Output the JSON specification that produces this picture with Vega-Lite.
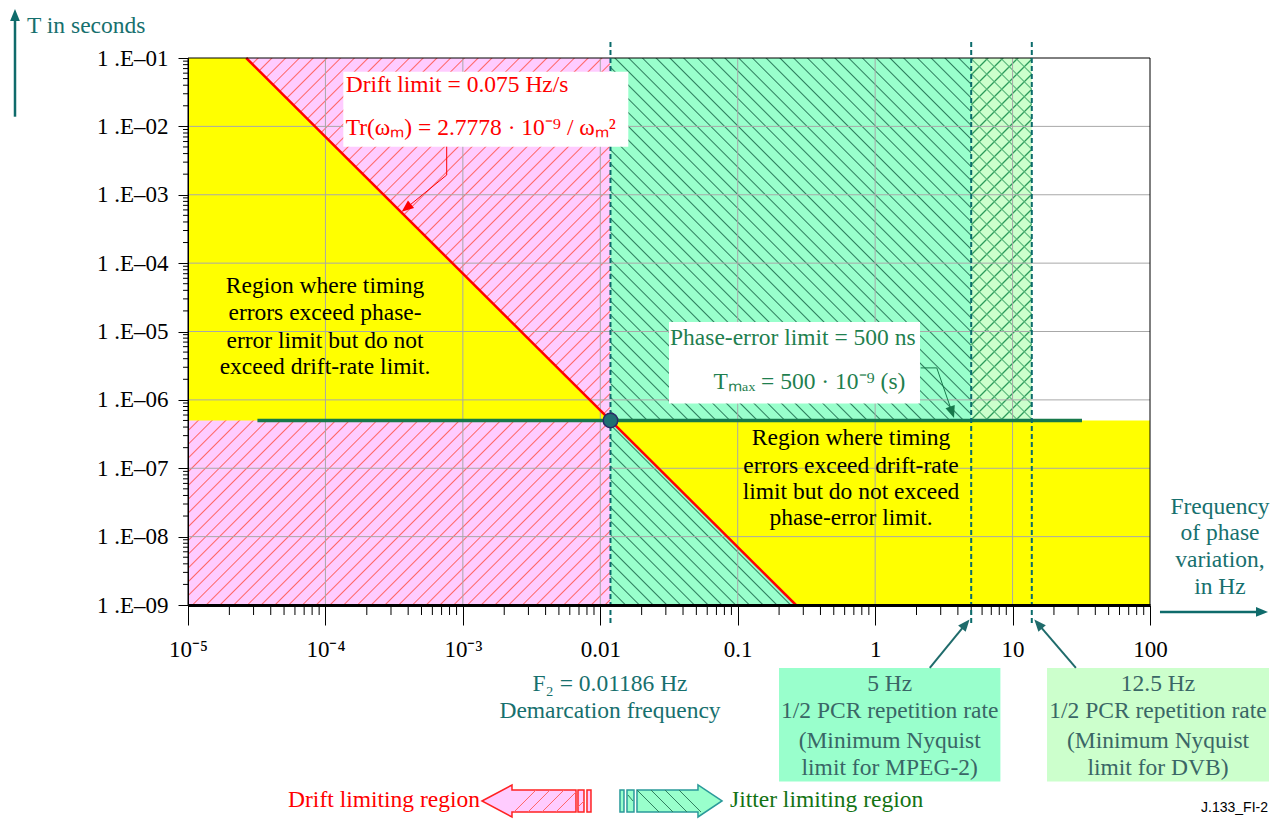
{
"$schema":"https://vega.github.io/schema/vega-lite/v6.json",
"width":962,"height":547,
"autosize":{"type":"none"},
"padding":{"left":188,"top":58,"right":133,"bottom":214},
"background":"white",
"config":{"view":{"stroke":null},"text":{"font":"Liberation Serif"}},
"datasets":{
"fills":[{"k":"pink","x1":1e-5,"x2":0.01186,"y1":1e-9,"y2":0.1},{"k":"green","x1":0.01186,"x2":5,"y1":1e-9,"y2":0.1},{"k":"cross","x1":5,"x2":13.8,"y1":5e-7,"y2":0.1},{"k":"frame","x1":1e-5,"x2":100,"y1":1e-9,"y2":0.1}],
"yellow":[{"p":"L","f":1e-5,"t":0.1,"t2":5e-7},{"p":"L","f":2.6526e-5,"t":0.1,"t2":5e-7},{"p":"L","f":0.01186,"t":5e-7,"t2":5e-7},{"p":"R","f":0.01186,"t":5e-7,"t2":5e-7},{"p":"R","f":0.26526,"t":1e-9,"t2":5e-7},{"p":"R","f":100,"t":1e-9,"t2":5e-7}],
"gridx":[{"v":1e-4},{"v":0.001},{"v":0.01},{"v":0.1},{"v":1},{"v":10}],
"gridy":[{"v":1e-8},{"v":1e-7},{"v":1e-6},{"v":1e-5},{"v":1e-4},{"v":0.001},{"v":0.01}],
"minx":[{"v":2e-5},{"v":3e-5},{"v":4e-5},{"v":5e-5},{"v":6e-5},{"v":7e-5},{"v":8e-5},{"v":9e-5},{"v":2e-4},{"v":3e-4},{"v":4e-4},{"v":5e-4},{"v":6e-4},{"v":7e-4},{"v":8e-4},{"v":9e-4},{"v":0.002},{"v":0.003},{"v":0.004},{"v":0.005},{"v":0.006},{"v":0.007},{"v":0.008},{"v":0.009},{"v":0.02},{"v":0.03},{"v":0.04},{"v":0.05},{"v":0.06},{"v":0.07},{"v":0.08},{"v":0.09},{"v":0.2},{"v":0.3},{"v":0.4},{"v":0.5},{"v":0.6},{"v":0.7},{"v":0.8},{"v":0.9},{"v":2},{"v":3},{"v":4},{"v":5},{"v":6},{"v":7},{"v":8},{"v":9},{"v":20},{"v":30},{"v":40},{"v":50},{"v":60},{"v":70},{"v":80},{"v":90}],
"miny":[{"v":2e-9},{"v":3e-9},{"v":4e-9},{"v":5e-9},{"v":6e-9},{"v":7e-9},{"v":8e-9},{"v":9e-9},{"v":2e-8},{"v":3e-8},{"v":4e-8},{"v":5e-8},{"v":6e-8},{"v":7e-8},{"v":8e-8},{"v":9e-8},{"v":2e-7},{"v":3e-7},{"v":4e-7},{"v":5e-7},{"v":6e-7},{"v":7e-7},{"v":8e-7},{"v":9e-7},{"v":2e-6},{"v":3e-6},{"v":4e-6},{"v":5e-6},{"v":6e-6},{"v":7e-6},{"v":8e-6},{"v":9e-6},{"v":2e-5},{"v":3e-5},{"v":4e-5},{"v":5e-5},{"v":6e-5},{"v":7e-5},{"v":8e-5},{"v":9e-5},{"v":2e-4},{"v":3e-4},{"v":4e-4},{"v":5e-4},{"v":6e-4},{"v":7e-4},{"v":8e-4},{"v":9e-4},{"v":0.002},{"v":0.003},{"v":0.004},{"v":0.005},{"v":0.006},{"v":0.007},{"v":0.008},{"v":0.009},{"v":0.02},{"v":0.03},{"v":0.04},{"v":0.05},{"v":0.06},{"v":0.07},{"v":0.08},{"v":0.09}],
"segs":[{"k":"drift","x1":2.6526e-5,"y1":0.1,"x2":0.26526,"y2":1e-9},
{"k":"tmax","x1":3.2e-5,"y1":5e-7,"x2":32,"y2":5e-7},
{"k":"dash","x1":0.01186,"y1":0.1714,"x2":0.01186,"y2":4.93e-10},
{"k":"dash","x1":5,"y1":0.1714,"x2":5,"y2":4.93e-10},
{"k":"dash","x1":13.8,"y1":0.1714,"x2":13.8,"y2":4.93e-10},
{"k":"red","x1":7.627e-4,"y1":5.043e-3,"x2":7.627e-4,"y2":1.944e-3},
{"k":"red","x1":7.627e-4,"y1":1.944e-3,"x2":3.956e-4,"y2":6.617e-4},
{"k":"green","x1":2.145,"y1":2.935e-6,"x2":2.81,"y2":2.935e-6},
{"k":"green","x1":2.81,"y1":2.935e-6,"x2":3.6,"y2":6.9e-7},
{"k":"teal","x1":5.51e-7,"y1":0.01385,"x2":5.51e-7,"y2":0.4045},
{"k":"teal","x1":118.2,"y1":7.9e-10,"x2":636.8,"y2":7.9e-10},
{"k":"teal2","x1":2.498,"y1":1.202e-10,"x2":4.489,"y2":5.063e-10},
{"k":"teal2","x1":28.89,"y1":1.202e-10,"x2":15.62,"y2":5.08e-10}],
"heads":[{"k":"T","x":5.51e-7,"y":0.4045},{"k":"F","x":636.8,"y":7.9e-10},{"k":"R","x":3.956e-4,"y":6.617e-4},{"k":"G","x":3.6,"y":6.9e-7},{"k":"B1","x":4.489,"y":5.063e-10},{"k":"B2","x":15.62,"y":5.08e-10}],
"boxes":[{"k":"drift","x1":1.349e-4,"x2":0.01599,"y1":5.043e-3,"y2":0.06302},{"k":"phase","x1":0.03162,"x2":2.12,"y1":8.82e-7,"y2":1.377e-5},{"k":"b5","x1":0.1998,"x2":8.155,"y1":2.62e-12,"y2":1.198e-10},{"k":"b12","x1":17.81,"x2":734.4,"y1":2.62e-12,"y2":1.198e-10}],
"pt":[{"x":0.01186,"y":5e-7}],
"legarr":[{"k":"D","x":3.405e-3,"y":1.36e-12},{"k":"J","x":0.03269,"y":1.36e-12}],
"texts":[{"g":"tlab","x":6.74e-7,"y":0.232,"s":"T in seconds"},
{"g":"freq","x":323.1,"y":2.739e-8,"s":"Frequency"},
{"g":"freq","x":323.1,"y":1.118e-8,"s":"of phase"},
{"g":"freq","x":323.1,"y":4.55e-9,"s":"variation,"},
{"g":"freq","x":323.1,"y":1.852e-9,"s":"in Hz"},
{"g":"drift","x":1.404e-4,"y":0.03214,"s":"Drift limit = 0.075 Hz/s"},
{"g":"drift","x":1.404e-4,"y":7.479e-3,"s":"Tr(ωₘ) = 2.7778 · 10⁻⁹ / ωₘ²"},
{"g":"phase","x":0.03216,"y":6.43e-6,"s":"Phase-error limit = 500 ns"},
{"g":"phase","x":0.06676,"y":1.442e-6,"s":"Tₘₐₓ = 500 · 10⁻⁹  (s)"},
{"g":"region","x":9.93e-5,"y":4.628e-5,"s":"Region where timing"},
{"g":"region","x":9.93e-5,"y":1.845e-5,"s":"errors exceed phase-"},
{"g":"region","x":9.93e-5,"y":7.26e-6,"s":"error limit but do not"},
{"g":"region","x":9.93e-5,"y":2.996e-6,"s":"exceed drift-rate limit."},
{"g":"region","x":0.6674,"y":2.742e-7,"s":"Region where timing"},
{"g":"region","x":0.6674,"y":1.09e-7,"s":"errors exceed drift-rate"},
{"g":"region","x":0.6674,"y":4.54e-8,"s":"limit but do not exceed"},
{"g":"region","x":0.6674,"y":1.853e-8,"s":"phase-error limit."},
{"g":"f2","x":0.01177,"y":7.11e-11,"s":"F₂ = 0.01186 Hz"},
{"g":"f2","x":0.01177,"y":2.77e-11,"s":"Demarcation frequency"},
{"g":"box","x":1.276,"y":7.11e-11,"s":"5 Hz"},
{"g":"box","x":1.276,"y":2.77e-11,"s":"1/2 PCR repetition rate"},
{"g":"box","x":1.276,"y":1.039e-11,"s":"(Minimum Nyquist"},
{"g":"box","x":1.276,"y":4.09e-12,"s":"limit for MPEG-2)"},
{"g":"box","x":114.3,"y":7.11e-11,"s":"12.5 Hz"},
{"g":"box","x":114.3,"y":2.77e-11,"s":"1/2 PCR repetition rate"},
{"g":"box","x":114.3,"y":1.039e-11,"s":"(Minimum Nyquist"},
{"g":"box","x":114.3,"y":4.09e-12,"s":"limit for DVB)"},
{"g":"legD","x":1.332e-3,"y":1.406e-12,"s":"Drift limiting region"},
{"g":"legJ","x":0.08786,"y":1.406e-12,"s":"Jitter limiting region"},
{"g":"code","x":722.3,"y":1.074e-12,"s":"J.133_FI-2"}]
},
"layer":[
{"data":{"name":"fills"},"transform":[{"filter":"datum.k==='pink'"}],"mark":{"type":"rect","fill":{"gradient":"linear","x1":0,"y1":0,"x2":0.9729,"y2":1.2596,"stops":[
{"offset":0,"color":"#fcf"},{"offset":0.0013,"color":"#f66"},{"offset":0.0026,"color":"#fcf"},
{"offset":0.0125,"color":"#fcf"},{"offset":0.0138,"color":"#f66"},{"offset":0.0151,"color":"#fcf"},
{"offset":0.025,"color":"#fcf"},{"offset":0.0263,"color":"#f66"},{"offset":0.0276,"color":"#fcf"},
{"offset":0.0375,"color":"#fcf"},{"offset":0.0388,"color":"#f66"},{"offset":0.0401,"color":"#fcf"},
{"offset":0.05,"color":"#fcf"},{"offset":0.0513,"color":"#f66"},{"offset":0.0526,"color":"#fcf"},
{"offset":0.0625,"color":"#fcf"},{"offset":0.0638,"color":"#f66"},{"offset":0.0651,"color":"#fcf"},
{"offset":0.075,"color":"#fcf"},{"offset":0.0763,"color":"#f66"},{"offset":0.0776,"color":"#fcf"},
{"offset":0.0875,"color":"#fcf"},{"offset":0.0888,"color":"#f66"},{"offset":0.0901,"color":"#fcf"},
{"offset":0.1,"color":"#fcf"},{"offset":0.1013,"color":"#f66"},{"offset":0.1026,"color":"#fcf"},
{"offset":0.1125,"color":"#fcf"},{"offset":0.1138,"color":"#f66"},{"offset":0.1151,"color":"#fcf"},
{"offset":0.125,"color":"#fcf"},{"offset":0.1263,"color":"#f66"},{"offset":0.1276,"color":"#fcf"},
{"offset":0.1375,"color":"#fcf"},{"offset":0.1388,"color":"#f66"},{"offset":0.1401,"color":"#fcf"},
{"offset":0.15,"color":"#fcf"},{"offset":0.1513,"color":"#f66"},{"offset":0.1526,"color":"#fcf"},
{"offset":0.1625,"color":"#fcf"},{"offset":0.1638,"color":"#f66"},{"offset":0.1651,"color":"#fcf"},
{"offset":0.175,"color":"#fcf"},{"offset":0.1763,"color":"#f66"},{"offset":0.1776,"color":"#fcf"},
{"offset":0.1875,"color":"#fcf"},{"offset":0.1888,"color":"#f66"},{"offset":0.1901,"color":"#fcf"},
{"offset":0.2,"color":"#fcf"},{"offset":0.2013,"color":"#f66"},{"offset":0.2026,"color":"#fcf"},
{"offset":0.2125,"color":"#fcf"},{"offset":0.2138,"color":"#f66"},{"offset":0.2151,"color":"#fcf"},
{"offset":0.225,"color":"#fcf"},{"offset":0.2263,"color":"#f66"},{"offset":0.2276,"color":"#fcf"},
{"offset":0.2375,"color":"#fcf"},{"offset":0.2388,"color":"#f66"},{"offset":0.2401,"color":"#fcf"},
{"offset":0.25,"color":"#fcf"},{"offset":0.2513,"color":"#f66"},{"offset":0.2526,"color":"#fcf"},
{"offset":0.2625,"color":"#fcf"},{"offset":0.2638,"color":"#f66"},{"offset":0.2651,"color":"#fcf"},
{"offset":0.275,"color":"#fcf"},{"offset":0.2763,"color":"#f66"},{"offset":0.2776,"color":"#fcf"},
{"offset":0.2875,"color":"#fcf"},{"offset":0.2888,"color":"#f66"},{"offset":0.2901,"color":"#fcf"},
{"offset":0.3,"color":"#fcf"},{"offset":0.3013,"color":"#f66"},{"offset":0.3026,"color":"#fcf"},
{"offset":0.3125,"color":"#fcf"},{"offset":0.3138,"color":"#f66"},{"offset":0.3151,"color":"#fcf"},
{"offset":0.325,"color":"#fcf"},{"offset":0.3263,"color":"#f66"},{"offset":0.3276,"color":"#fcf"},
{"offset":0.3375,"color":"#fcf"},{"offset":0.3388,"color":"#f66"},{"offset":0.3401,"color":"#fcf"},
{"offset":0.35,"color":"#fcf"},{"offset":0.3513,"color":"#f66"},{"offset":0.3526,"color":"#fcf"},
{"offset":0.3625,"color":"#fcf"},{"offset":0.3638,"color":"#f66"},{"offset":0.3651,"color":"#fcf"},
{"offset":0.375,"color":"#fcf"},{"offset":0.3763,"color":"#f66"},{"offset":0.3776,"color":"#fcf"},
{"offset":0.3875,"color":"#fcf"},{"offset":0.3888,"color":"#f66"},{"offset":0.3901,"color":"#fcf"},
{"offset":0.4,"color":"#fcf"},{"offset":0.4013,"color":"#f66"},{"offset":0.4026,"color":"#fcf"},
{"offset":0.4125,"color":"#fcf"},{"offset":0.4138,"color":"#f66"},{"offset":0.4151,"color":"#fcf"},
{"offset":0.425,"color":"#fcf"},{"offset":0.4263,"color":"#f66"},{"offset":0.4276,"color":"#fcf"},
{"offset":0.4375,"color":"#fcf"},{"offset":0.4388,"color":"#f66"},{"offset":0.4401,"color":"#fcf"},
{"offset":0.45,"color":"#fcf"},{"offset":0.4513,"color":"#f66"},{"offset":0.4526,"color":"#fcf"},
{"offset":0.4625,"color":"#fcf"},{"offset":0.4638,"color":"#f66"},{"offset":0.4651,"color":"#fcf"},
{"offset":0.475,"color":"#fcf"},{"offset":0.4763,"color":"#f66"},{"offset":0.4776,"color":"#fcf"},
{"offset":0.4875,"color":"#fcf"},{"offset":0.4888,"color":"#f66"},{"offset":0.4901,"color":"#fcf"},
{"offset":0.5,"color":"#fcf"},{"offset":0.5013,"color":"#f66"},{"offset":0.5026,"color":"#fcf"},
{"offset":0.5125,"color":"#fcf"},{"offset":0.5138,"color":"#f66"},{"offset":0.5151,"color":"#fcf"},
{"offset":0.525,"color":"#fcf"},{"offset":0.5263,"color":"#f66"},{"offset":0.5276,"color":"#fcf"},
{"offset":0.5375,"color":"#fcf"},{"offset":0.5388,"color":"#f66"},{"offset":0.5401,"color":"#fcf"},
{"offset":0.55,"color":"#fcf"},{"offset":0.5513,"color":"#f66"},{"offset":0.5526,"color":"#fcf"},
{"offset":0.5625,"color":"#fcf"},{"offset":0.5638,"color":"#f66"},{"offset":0.5651,"color":"#fcf"},
{"offset":0.575,"color":"#fcf"},{"offset":0.5763,"color":"#f66"},{"offset":0.5776,"color":"#fcf"},
{"offset":0.5875,"color":"#fcf"},{"offset":0.5888,"color":"#f66"},{"offset":0.5901,"color":"#fcf"},
{"offset":0.6,"color":"#fcf"},{"offset":0.6013,"color":"#f66"},{"offset":0.6026,"color":"#fcf"},
{"offset":0.6125,"color":"#fcf"},{"offset":0.6138,"color":"#f66"},{"offset":0.6151,"color":"#fcf"},
{"offset":0.625,"color":"#fcf"},{"offset":0.6263,"color":"#f66"},{"offset":0.6276,"color":"#fcf"},
{"offset":0.6375,"color":"#fcf"},{"offset":0.6388,"color":"#f66"},{"offset":0.6401,"color":"#fcf"},
{"offset":0.65,"color":"#fcf"},{"offset":0.6513,"color":"#f66"},{"offset":0.6526,"color":"#fcf"},
{"offset":0.6625,"color":"#fcf"},{"offset":0.6638,"color":"#f66"},{"offset":0.6651,"color":"#fcf"},
{"offset":0.675,"color":"#fcf"},{"offset":0.6763,"color":"#f66"},{"offset":0.6776,"color":"#fcf"},
{"offset":0.6875,"color":"#fcf"},{"offset":0.6888,"color":"#f66"},{"offset":0.6901,"color":"#fcf"},
{"offset":0.7,"color":"#fcf"},{"offset":0.7013,"color":"#f66"},{"offset":0.7026,"color":"#fcf"},
{"offset":0.7125,"color":"#fcf"},{"offset":0.7138,"color":"#f66"},{"offset":0.7151,"color":"#fcf"},
{"offset":0.725,"color":"#fcf"},{"offset":0.7263,"color":"#f66"},{"offset":0.7276,"color":"#fcf"},
{"offset":0.7375,"color":"#fcf"},{"offset":0.7388,"color":"#f66"},{"offset":0.7401,"color":"#fcf"},
{"offset":0.75,"color":"#fcf"},{"offset":0.7513,"color":"#f66"},{"offset":0.7526,"color":"#fcf"},
{"offset":0.7625,"color":"#fcf"},{"offset":0.7638,"color":"#f66"},{"offset":0.7651,"color":"#fcf"},
{"offset":0.775,"color":"#fcf"},{"offset":0.7763,"color":"#f66"},{"offset":0.7776,"color":"#fcf"},
{"offset":0.7875,"color":"#fcf"},{"offset":0.7888,"color":"#f66"},{"offset":0.7901,"color":"#fcf"},
{"offset":0.8,"color":"#fcf"},{"offset":0.8013,"color":"#f66"},{"offset":0.8026,"color":"#fcf"},
{"offset":0.8125,"color":"#fcf"},{"offset":0.8138,"color":"#f66"},{"offset":0.8151,"color":"#fcf"},
{"offset":0.825,"color":"#fcf"},{"offset":0.8263,"color":"#f66"},{"offset":0.8276,"color":"#fcf"},
{"offset":0.8375,"color":"#fcf"},{"offset":0.8388,"color":"#f66"},{"offset":0.8401,"color":"#fcf"},
{"offset":0.85,"color":"#fcf"},{"offset":0.8513,"color":"#f66"},{"offset":0.8526,"color":"#fcf"},
{"offset":0.8625,"color":"#fcf"},{"offset":0.8638,"color":"#f66"},{"offset":0.8651,"color":"#fcf"},
{"offset":0.875,"color":"#fcf"},{"offset":0.8763,"color":"#f66"},{"offset":0.8776,"color":"#fcf"},
{"offset":1,"color":"#fcf"}]}},
"encoding":{
"x":{"field":"x1","type":"quantitative","title":null,"scale":{"type":"log","domain":[1e-5,100],"nice":false},"axis":{"title":null,"values":[1e-5,1e-4,0.001,0.01,0.1,1,10,100],"labelExpr":"['10⁻⁵','10⁻⁴','10⁻³','0.01','0.1','1','10','100'][round(log(datum.value)/LN10)+5]","tickSize":20,"tickColor":"black","tickWidth":1,"domainColor":"black","domainWidth":3,"labelFont":"Liberation Serif","labelFontSize":23,"labelColor":"black","labelPadding":13,"labelFlush":false,"labelOverlap":false,"labelBound":false,"grid":false,"zindex":1}},
"x2":{"field":"x2"},
"y":{"field":"y1","type":"quantitative","title":null,"scale":{"type":"log","domain":[1e-9,0.1],"nice":false},"axis":{"title":null,"values":[1e-9,1e-8,1e-7,1e-6,1e-5,1e-4,0.001,0.01,0.1],"labelExpr":"'1 .E–0' + (-round(log(datum.value)/LN10))","tickSize":10,"tickColor":"black","tickWidth":1,"domainColor":"black","domainWidth":1,"labelFont":"Liberation Serif","labelFontSize":23,"labelColor":"black","labelPadding":10,"labelFlush":false,"labelOverlap":false,"labelBound":false,"grid":false,"zindex":1}},
"y2":{"field":"y2"}}},
{"data":{"name":"fills"},"transform":[{"filter":"datum.k==='green'"}],"mark":{"type":"rect","fill":{"gradient":"linear","x1":0,"y1":1,"x2":0.9242,"y2":-0.4016,"stops":[
{"offset":0,"color":"#9fc"},{"offset":0.0013,"color":"#2d7d5d"},{"offset":0.0026,"color":"#9fc"},
{"offset":0.0125,"color":"#9fc"},{"offset":0.0138,"color":"#2d7d5d"},{"offset":0.0151,"color":"#9fc"},
{"offset":0.025,"color":"#9fc"},{"offset":0.0263,"color":"#2d7d5d"},{"offset":0.0276,"color":"#9fc"},
{"offset":0.0375,"color":"#9fc"},{"offset":0.0388,"color":"#2d7d5d"},{"offset":0.0401,"color":"#9fc"},
{"offset":0.05,"color":"#9fc"},{"offset":0.0513,"color":"#2d7d5d"},{"offset":0.0526,"color":"#9fc"},
{"offset":0.0625,"color":"#9fc"},{"offset":0.0638,"color":"#2d7d5d"},{"offset":0.0651,"color":"#9fc"},
{"offset":0.075,"color":"#9fc"},{"offset":0.0763,"color":"#2d7d5d"},{"offset":0.0776,"color":"#9fc"},
{"offset":0.0875,"color":"#9fc"},{"offset":0.0888,"color":"#2d7d5d"},{"offset":0.0901,"color":"#9fc"},
{"offset":0.1,"color":"#9fc"},{"offset":0.1013,"color":"#2d7d5d"},{"offset":0.1026,"color":"#9fc"},
{"offset":0.1125,"color":"#9fc"},{"offset":0.1138,"color":"#2d7d5d"},{"offset":0.1151,"color":"#9fc"},
{"offset":0.125,"color":"#9fc"},{"offset":0.1263,"color":"#2d7d5d"},{"offset":0.1276,"color":"#9fc"},
{"offset":0.1375,"color":"#9fc"},{"offset":0.1388,"color":"#2d7d5d"},{"offset":0.1401,"color":"#9fc"},
{"offset":0.15,"color":"#9fc"},{"offset":0.1513,"color":"#2d7d5d"},{"offset":0.1526,"color":"#9fc"},
{"offset":0.1625,"color":"#9fc"},{"offset":0.1638,"color":"#2d7d5d"},{"offset":0.1651,"color":"#9fc"},
{"offset":0.175,"color":"#9fc"},{"offset":0.1763,"color":"#2d7d5d"},{"offset":0.1776,"color":"#9fc"},
{"offset":0.1875,"color":"#9fc"},{"offset":0.1888,"color":"#2d7d5d"},{"offset":0.1901,"color":"#9fc"},
{"offset":0.2,"color":"#9fc"},{"offset":0.2013,"color":"#2d7d5d"},{"offset":0.2026,"color":"#9fc"},
{"offset":0.2125,"color":"#9fc"},{"offset":0.2138,"color":"#2d7d5d"},{"offset":0.2151,"color":"#9fc"},
{"offset":0.225,"color":"#9fc"},{"offset":0.2263,"color":"#2d7d5d"},{"offset":0.2276,"color":"#9fc"},
{"offset":0.2375,"color":"#9fc"},{"offset":0.2388,"color":"#2d7d5d"},{"offset":0.2401,"color":"#9fc"},
{"offset":0.25,"color":"#9fc"},{"offset":0.2513,"color":"#2d7d5d"},{"offset":0.2526,"color":"#9fc"},
{"offset":0.2625,"color":"#9fc"},{"offset":0.2638,"color":"#2d7d5d"},{"offset":0.2651,"color":"#9fc"},
{"offset":0.275,"color":"#9fc"},{"offset":0.2763,"color":"#2d7d5d"},{"offset":0.2776,"color":"#9fc"},
{"offset":0.2875,"color":"#9fc"},{"offset":0.2888,"color":"#2d7d5d"},{"offset":0.2901,"color":"#9fc"},
{"offset":0.3,"color":"#9fc"},{"offset":0.3013,"color":"#2d7d5d"},{"offset":0.3026,"color":"#9fc"},
{"offset":0.3125,"color":"#9fc"},{"offset":0.3138,"color":"#2d7d5d"},{"offset":0.3151,"color":"#9fc"},
{"offset":0.325,"color":"#9fc"},{"offset":0.3263,"color":"#2d7d5d"},{"offset":0.3276,"color":"#9fc"},
{"offset":0.3375,"color":"#9fc"},{"offset":0.3388,"color":"#2d7d5d"},{"offset":0.3401,"color":"#9fc"},
{"offset":0.35,"color":"#9fc"},{"offset":0.3513,"color":"#2d7d5d"},{"offset":0.3526,"color":"#9fc"},
{"offset":0.3625,"color":"#9fc"},{"offset":0.3638,"color":"#2d7d5d"},{"offset":0.3651,"color":"#9fc"},
{"offset":0.375,"color":"#9fc"},{"offset":0.3763,"color":"#2d7d5d"},{"offset":0.3776,"color":"#9fc"},
{"offset":0.3875,"color":"#9fc"},{"offset":0.3888,"color":"#2d7d5d"},{"offset":0.3901,"color":"#9fc"},
{"offset":0.4,"color":"#9fc"},{"offset":0.4013,"color":"#2d7d5d"},{"offset":0.4026,"color":"#9fc"},
{"offset":0.4125,"color":"#9fc"},{"offset":0.4138,"color":"#2d7d5d"},{"offset":0.4151,"color":"#9fc"},
{"offset":0.425,"color":"#9fc"},{"offset":0.4263,"color":"#2d7d5d"},{"offset":0.4276,"color":"#9fc"},
{"offset":0.4375,"color":"#9fc"},{"offset":0.4388,"color":"#2d7d5d"},{"offset":0.4401,"color":"#9fc"},
{"offset":0.45,"color":"#9fc"},{"offset":0.4513,"color":"#2d7d5d"},{"offset":0.4526,"color":"#9fc"},
{"offset":0.4625,"color":"#9fc"},{"offset":0.4638,"color":"#2d7d5d"},{"offset":0.4651,"color":"#9fc"},
{"offset":0.475,"color":"#9fc"},{"offset":0.4763,"color":"#2d7d5d"},{"offset":0.4776,"color":"#9fc"},
{"offset":0.4875,"color":"#9fc"},{"offset":0.4888,"color":"#2d7d5d"},{"offset":0.4901,"color":"#9fc"},
{"offset":0.5,"color":"#9fc"},{"offset":0.5013,"color":"#2d7d5d"},{"offset":0.5026,"color":"#9fc"},
{"offset":0.5125,"color":"#9fc"},{"offset":0.5138,"color":"#2d7d5d"},{"offset":0.5151,"color":"#9fc"},
{"offset":0.525,"color":"#9fc"},{"offset":0.5263,"color":"#2d7d5d"},{"offset":0.5276,"color":"#9fc"},
{"offset":0.5375,"color":"#9fc"},{"offset":0.5388,"color":"#2d7d5d"},{"offset":0.5401,"color":"#9fc"},
{"offset":0.55,"color":"#9fc"},{"offset":0.5513,"color":"#2d7d5d"},{"offset":0.5526,"color":"#9fc"},
{"offset":0.5625,"color":"#9fc"},{"offset":0.5638,"color":"#2d7d5d"},{"offset":0.5651,"color":"#9fc"},
{"offset":0.575,"color":"#9fc"},{"offset":0.5763,"color":"#2d7d5d"},{"offset":0.5776,"color":"#9fc"},
{"offset":0.5875,"color":"#9fc"},{"offset":0.5888,"color":"#2d7d5d"},{"offset":0.5901,"color":"#9fc"},
{"offset":0.6,"color":"#9fc"},{"offset":0.6013,"color":"#2d7d5d"},{"offset":0.6026,"color":"#9fc"},
{"offset":0.6125,"color":"#9fc"},{"offset":0.6138,"color":"#2d7d5d"},{"offset":0.6151,"color":"#9fc"},
{"offset":0.625,"color":"#9fc"},{"offset":0.6263,"color":"#2d7d5d"},{"offset":0.6276,"color":"#9fc"},
{"offset":0.6375,"color":"#9fc"},{"offset":0.6388,"color":"#2d7d5d"},{"offset":0.6401,"color":"#9fc"},
{"offset":0.65,"color":"#9fc"},{"offset":0.6513,"color":"#2d7d5d"},{"offset":0.6526,"color":"#9fc"},
{"offset":0.6625,"color":"#9fc"},{"offset":0.6638,"color":"#2d7d5d"},{"offset":0.6651,"color":"#9fc"},
{"offset":0.675,"color":"#9fc"},{"offset":0.6763,"color":"#2d7d5d"},{"offset":0.6776,"color":"#9fc"},
{"offset":0.6875,"color":"#9fc"},{"offset":0.6888,"color":"#2d7d5d"},{"offset":0.6901,"color":"#9fc"},
{"offset":0.7,"color":"#9fc"},{"offset":0.7013,"color":"#2d7d5d"},{"offset":0.7026,"color":"#9fc"},
{"offset":0.7125,"color":"#9fc"},{"offset":0.7138,"color":"#2d7d5d"},{"offset":0.7151,"color":"#9fc"},
{"offset":0.725,"color":"#9fc"},{"offset":0.7263,"color":"#2d7d5d"},{"offset":0.7276,"color":"#9fc"},
{"offset":0.7375,"color":"#9fc"},{"offset":0.7388,"color":"#2d7d5d"},{"offset":0.7401,"color":"#9fc"},
{"offset":0.75,"color":"#9fc"},{"offset":0.7513,"color":"#2d7d5d"},{"offset":0.7526,"color":"#9fc"},
{"offset":0.7625,"color":"#9fc"},{"offset":0.7638,"color":"#2d7d5d"},{"offset":0.7651,"color":"#9fc"},
{"offset":0.775,"color":"#9fc"},{"offset":0.7763,"color":"#2d7d5d"},{"offset":0.7776,"color":"#9fc"},
{"offset":0.7875,"color":"#9fc"},{"offset":0.7888,"color":"#2d7d5d"},{"offset":0.7901,"color":"#9fc"},
{"offset":0.8,"color":"#9fc"},{"offset":0.8013,"color":"#2d7d5d"},{"offset":0.8026,"color":"#9fc"},
{"offset":0.8125,"color":"#9fc"},{"offset":0.8138,"color":"#2d7d5d"},{"offset":0.8151,"color":"#9fc"},
{"offset":0.825,"color":"#9fc"},{"offset":0.8263,"color":"#2d7d5d"},{"offset":0.8276,"color":"#9fc"},
{"offset":1,"color":"#9fc"}]}},
"encoding":{"x":{"field":"x1","type":"quantitative","title":null},"x2":{"field":"x2"},"y":{"field":"y1","type":"quantitative","title":null},"y2":{"field":"y2"}}},
{"data":{"name":"fills"},"transform":[{"filter":"datum.k==='cross'"}],"mark":{"type":"rect","fill":{"gradient":"linear","x1":0,"y1":0,"x2":0.2693,"y2":1.6104,"stops":[
{"offset":0,"color":"#cfc"},{"offset":0.003,"color":"#2a9a5a"},{"offset":0.006,"color":"#cfc"},
{"offset":0.025,"color":"#cfc"},{"offset":0.028,"color":"#2a9a5a"},{"offset":0.031,"color":"#cfc"},
{"offset":0.05,"color":"#cfc"},{"offset":0.053,"color":"#2a9a5a"},{"offset":0.056,"color":"#cfc"},
{"offset":0.075,"color":"#cfc"},{"offset":0.078,"color":"#2a9a5a"},{"offset":0.081,"color":"#cfc"},
{"offset":0.1,"color":"#cfc"},{"offset":0.103,"color":"#2a9a5a"},{"offset":0.106,"color":"#cfc"},
{"offset":0.125,"color":"#cfc"},{"offset":0.128,"color":"#2a9a5a"},{"offset":0.131,"color":"#cfc"},
{"offset":0.15,"color":"#cfc"},{"offset":0.153,"color":"#2a9a5a"},{"offset":0.156,"color":"#cfc"},
{"offset":0.175,"color":"#cfc"},{"offset":0.178,"color":"#2a9a5a"},{"offset":0.181,"color":"#cfc"},
{"offset":0.2,"color":"#cfc"},{"offset":0.203,"color":"#2a9a5a"},{"offset":0.206,"color":"#cfc"},
{"offset":0.225,"color":"#cfc"},{"offset":0.228,"color":"#2a9a5a"},{"offset":0.231,"color":"#cfc"},
{"offset":0.25,"color":"#cfc"},{"offset":0.253,"color":"#2a9a5a"},{"offset":0.256,"color":"#cfc"},
{"offset":0.275,"color":"#cfc"},{"offset":0.278,"color":"#2a9a5a"},{"offset":0.281,"color":"#cfc"},
{"offset":0.3,"color":"#cfc"},{"offset":0.303,"color":"#2a9a5a"},{"offset":0.306,"color":"#cfc"},
{"offset":0.325,"color":"#cfc"},{"offset":0.328,"color":"#2a9a5a"},{"offset":0.331,"color":"#cfc"},
{"offset":0.35,"color":"#cfc"},{"offset":0.353,"color":"#2a9a5a"},{"offset":0.356,"color":"#cfc"},
{"offset":0.375,"color":"#cfc"},{"offset":0.378,"color":"#2a9a5a"},{"offset":0.381,"color":"#cfc"},
{"offset":0.4,"color":"#cfc"},{"offset":0.403,"color":"#2a9a5a"},{"offset":0.406,"color":"#cfc"},
{"offset":0.425,"color":"#cfc"},{"offset":0.428,"color":"#2a9a5a"},{"offset":0.431,"color":"#cfc"},
{"offset":0.45,"color":"#cfc"},{"offset":0.453,"color":"#2a9a5a"},{"offset":0.456,"color":"#cfc"},
{"offset":0.475,"color":"#cfc"},{"offset":0.478,"color":"#2a9a5a"},{"offset":0.481,"color":"#cfc"},
{"offset":0.5,"color":"#cfc"},{"offset":0.503,"color":"#2a9a5a"},{"offset":0.506,"color":"#cfc"},
{"offset":0.525,"color":"#cfc"},{"offset":0.528,"color":"#2a9a5a"},{"offset":0.531,"color":"#cfc"},
{"offset":0.55,"color":"#cfc"},{"offset":0.553,"color":"#2a9a5a"},{"offset":0.556,"color":"#cfc"},
{"offset":0.575,"color":"#cfc"},{"offset":0.578,"color":"#2a9a5a"},{"offset":0.581,"color":"#cfc"},
{"offset":0.6,"color":"#cfc"},{"offset":0.603,"color":"#2a9a5a"},{"offset":0.606,"color":"#cfc"},
{"offset":0.625,"color":"#cfc"},{"offset":0.628,"color":"#2a9a5a"},{"offset":0.631,"color":"#cfc"},
{"offset":0.65,"color":"#cfc"},{"offset":0.653,"color":"#2a9a5a"},{"offset":0.656,"color":"#cfc"},
{"offset":0.675,"color":"#cfc"},{"offset":0.678,"color":"#2a9a5a"},{"offset":0.681,"color":"#cfc"},
{"offset":0.7,"color":"#cfc"},{"offset":0.703,"color":"#2a9a5a"},{"offset":0.706,"color":"#cfc"},
{"offset":1,"color":"#cfc"}]}},
"encoding":{"x":{"field":"x1","type":"quantitative","title":null},"x2":{"field":"x2"},"y":{"field":"y1","type":"quantitative","title":null},"y2":{"field":"y2"}}},
{"data":{"name":"fills"},"transform":[{"filter":"datum.k==='cross'"}],"mark":{"type":"rect","fill":{"gradient":"linear","x1":0,"y1":1,"x2":0.2693,"y2":-0.6104,"stops":[
{"offset":0,"color":"rgba(204,255,204,0)"},{"offset":0.003,"color":"#2a9a5a"},{"offset":0.006,"color":"rgba(204,255,204,0)"},
{"offset":0.025,"color":"rgba(204,255,204,0)"},{"offset":0.028,"color":"#2a9a5a"},{"offset":0.031,"color":"rgba(204,255,204,0)"},
{"offset":0.05,"color":"rgba(204,255,204,0)"},{"offset":0.053,"color":"#2a9a5a"},{"offset":0.056,"color":"rgba(204,255,204,0)"},
{"offset":0.075,"color":"rgba(204,255,204,0)"},{"offset":0.078,"color":"#2a9a5a"},{"offset":0.081,"color":"rgba(204,255,204,0)"},
{"offset":0.1,"color":"rgba(204,255,204,0)"},{"offset":0.103,"color":"#2a9a5a"},{"offset":0.106,"color":"rgba(204,255,204,0)"},
{"offset":0.125,"color":"rgba(204,255,204,0)"},{"offset":0.128,"color":"#2a9a5a"},{"offset":0.131,"color":"rgba(204,255,204,0)"},
{"offset":0.15,"color":"rgba(204,255,204,0)"},{"offset":0.153,"color":"#2a9a5a"},{"offset":0.156,"color":"rgba(204,255,204,0)"},
{"offset":0.175,"color":"rgba(204,255,204,0)"},{"offset":0.178,"color":"#2a9a5a"},{"offset":0.181,"color":"rgba(204,255,204,0)"},
{"offset":0.2,"color":"rgba(204,255,204,0)"},{"offset":0.203,"color":"#2a9a5a"},{"offset":0.206,"color":"rgba(204,255,204,0)"},
{"offset":0.225,"color":"rgba(204,255,204,0)"},{"offset":0.228,"color":"#2a9a5a"},{"offset":0.231,"color":"rgba(204,255,204,0)"},
{"offset":0.25,"color":"rgba(204,255,204,0)"},{"offset":0.253,"color":"#2a9a5a"},{"offset":0.256,"color":"rgba(204,255,204,0)"},
{"offset":0.275,"color":"rgba(204,255,204,0)"},{"offset":0.278,"color":"#2a9a5a"},{"offset":0.281,"color":"rgba(204,255,204,0)"},
{"offset":0.3,"color":"rgba(204,255,204,0)"},{"offset":0.303,"color":"#2a9a5a"},{"offset":0.306,"color":"rgba(204,255,204,0)"},
{"offset":0.325,"color":"rgba(204,255,204,0)"},{"offset":0.328,"color":"#2a9a5a"},{"offset":0.331,"color":"rgba(204,255,204,0)"},
{"offset":0.35,"color":"rgba(204,255,204,0)"},{"offset":0.353,"color":"#2a9a5a"},{"offset":0.356,"color":"rgba(204,255,204,0)"},
{"offset":0.375,"color":"rgba(204,255,204,0)"},{"offset":0.378,"color":"#2a9a5a"},{"offset":0.381,"color":"rgba(204,255,204,0)"},
{"offset":0.4,"color":"rgba(204,255,204,0)"},{"offset":0.403,"color":"#2a9a5a"},{"offset":0.406,"color":"rgba(204,255,204,0)"},
{"offset":0.425,"color":"rgba(204,255,204,0)"},{"offset":0.428,"color":"#2a9a5a"},{"offset":0.431,"color":"rgba(204,255,204,0)"},
{"offset":0.45,"color":"rgba(204,255,204,0)"},{"offset":0.453,"color":"#2a9a5a"},{"offset":0.456,"color":"rgba(204,255,204,0)"},
{"offset":0.475,"color":"rgba(204,255,204,0)"},{"offset":0.478,"color":"#2a9a5a"},{"offset":0.481,"color":"rgba(204,255,204,0)"},
{"offset":0.5,"color":"rgba(204,255,204,0)"},{"offset":0.503,"color":"#2a9a5a"},{"offset":0.506,"color":"rgba(204,255,204,0)"},
{"offset":0.525,"color":"rgba(204,255,204,0)"},{"offset":0.528,"color":"#2a9a5a"},{"offset":0.531,"color":"rgba(204,255,204,0)"},
{"offset":0.55,"color":"rgba(204,255,204,0)"},{"offset":0.553,"color":"#2a9a5a"},{"offset":0.556,"color":"rgba(204,255,204,0)"},
{"offset":0.575,"color":"rgba(204,255,204,0)"},{"offset":0.578,"color":"#2a9a5a"},{"offset":0.581,"color":"rgba(204,255,204,0)"},
{"offset":0.6,"color":"rgba(204,255,204,0)"},{"offset":0.603,"color":"#2a9a5a"},{"offset":0.606,"color":"rgba(204,255,204,0)"},
{"offset":0.625,"color":"rgba(204,255,204,0)"},{"offset":0.628,"color":"#2a9a5a"},{"offset":0.631,"color":"rgba(204,255,204,0)"},
{"offset":0.65,"color":"rgba(204,255,204,0)"},{"offset":0.653,"color":"#2a9a5a"},{"offset":0.656,"color":"rgba(204,255,204,0)"},
{"offset":0.675,"color":"rgba(204,255,204,0)"},{"offset":0.678,"color":"#2a9a5a"},{"offset":0.681,"color":"rgba(204,255,204,0)"},
{"offset":0.7,"color":"rgba(204,255,204,0)"},{"offset":0.703,"color":"#2a9a5a"},{"offset":0.706,"color":"rgba(204,255,204,0)"},
{"offset":1,"color":"rgba(204,255,204,0)"}]}},
"encoding":{"x":{"field":"x1","type":"quantitative","title":null},"x2":{"field":"x2"},"y":{"field":"y1","type":"quantitative","title":null},"y2":{"field":"y2"}}},
{"data":{"name":"yellow"},"mark":{"type":"area","fill":"#FFFF00","orient":"vertical"},
"encoding":{"x":{"field":"f","type":"quantitative","title":null},"y":{"field":"t","type":"quantitative","title":null},"y2":{"field":"t2"},"detail":{"field":"p"}}},
{"data":{"name":"gridx"},"mark":{"type":"rule","color":"#A8A8A8","strokeWidth":1},"encoding":{"x":{"field":"v","type":"quantitative","title":null}}},
{"data":{"name":"gridy"},"mark":{"type":"rule","color":"#A8A8A8","strokeWidth":1},"encoding":{"y":{"field":"v","type":"quantitative","title":null}}},
{"data":{"name":"minx"},"mark":{"type":"rule","color":"black","strokeWidth":1},"encoding":{"x":{"field":"v","type":"quantitative","title":null},"y":{"datum":1e-9},"y2":{"datum":7.14e-10}}},
{"data":{"name":"miny"},"mark":{"type":"rule","color":"black","strokeWidth":1},"encoding":{"y":{"field":"v","type":"quantitative","title":null},"x":{"datum":1e-5},"x2":{"datum":9.2e-6}}},
{"data":{"name":"segs"},"transform":[{"filter":"datum.k==='drift'"}],"mark":{"type":"rule","color":"#FF0000","strokeWidth":2.5},
"encoding":{"x":{"field":"x1","type":"quantitative","title":null},"x2":{"field":"x2"},"y":{"field":"y1","type":"quantitative","title":null},"y2":{"field":"y2"}}},
{"data":{"name":"fills"},"transform":[{"filter":"datum.k==='frame'"}],"mark":{"type":"rect","filled":false,"stroke":"black","strokeWidth":1},
"encoding":{"x":{"field":"x1","type":"quantitative","title":null},"x2":{"field":"x2"},"y":{"field":"y1","type":"quantitative","title":null},"y2":{"field":"y2"}}},
{"data":{"name":"segs"},"transform":[{"filter":"datum.k==='tmax'"}],"mark":{"type":"rule","color":"#17784A","strokeWidth":3.5},
"encoding":{"x":{"field":"x1","type":"quantitative","title":null},"x2":{"field":"x2"},"y":{"field":"y1","type":"quantitative","title":null},"y2":{"field":"y2"}}},
{"data":{"name":"segs"},"transform":[{"filter":"datum.k==='dash'"}],"mark":{"type":"rule","color":"#0B6B6B","strokeWidth":2,"strokeDash":[5,3]},
"encoding":{"x":{"field":"x1","type":"quantitative","title":null},"x2":{"field":"x2"},"y":{"field":"y1","type":"quantitative","title":null},"y2":{"field":"y2"}}},
{"data":{"name":"pt"},"mark":{"type":"point","shape":"circle","filled":true,"size":210,"fill":"#216F72","stroke":"#2A2A66","strokeWidth":1.5,"opacity":1},
"encoding":{"x":{"field":"x","type":"quantitative","title":null},"y":{"field":"y","type":"quantitative","title":null}}},
{"data":{"name":"boxes"},"transform":[{"filter":"datum.k==='drift' || datum.k==='phase'"}],"mark":{"type":"rect","fill":"#FFFFFF"},
"encoding":{"x":{"field":"x1","type":"quantitative","title":null},"x2":{"field":"x2"},"y":{"field":"y1","type":"quantitative","title":null},"y2":{"field":"y2"}}},
{"data":{"name":"boxes"},"transform":[{"filter":"datum.k==='b5'"}],"mark":{"type":"rect","fill":"#99FFCC"},
"encoding":{"x":{"field":"x1","type":"quantitative","title":null},"x2":{"field":"x2"},"y":{"field":"y1","type":"quantitative","title":null},"y2":{"field":"y2"}}},
{"data":{"name":"boxes"},"transform":[{"filter":"datum.k==='b12'"}],"mark":{"type":"rect","fill":"#CCFFCC"},
"encoding":{"x":{"field":"x1","type":"quantitative","title":null},"x2":{"field":"x2"},"y":{"field":"y1","type":"quantitative","title":null},"y2":{"field":"y2"}}},
{"data":{"name":"texts"},"transform":[{"filter":"datum.g==='tlab'"}],"mark":{"type":"text","font":"Liberation Serif","fontSize":23.5,"color":"#17706E","align":"left","baseline":"alphabetic"},
"encoding":{"x":{"field":"x","type":"quantitative","title":null},"y":{"field":"y","type":"quantitative","title":null},"text":{"field":"s"}}},
{"data":{"name":"texts"},"transform":[{"filter":"datum.g==='freq' || datum.g==='f2'"}],"mark":{"type":"text","font":"Liberation Serif","fontSize":23.5,"color":"#17706E","align":"center","baseline":"middle"},
"encoding":{"x":{"field":"x","type":"quantitative","title":null},"y":{"field":"y","type":"quantitative","title":null},"text":{"field":"s"}}},
{"data":{"name":"texts"},"transform":[{"filter":"datum.g==='drift'"}],"mark":{"type":"text","font":"Liberation Serif","fontSize":23.5,"color":"#FF0000","align":"left","baseline":"alphabetic"},
"encoding":{"x":{"field":"x","type":"quantitative","title":null},"y":{"field":"y","type":"quantitative","title":null},"text":{"field":"s"}}},
{"data":{"name":"texts"},"transform":[{"filter":"datum.g==='phase'"}],"mark":{"type":"text","font":"Liberation Serif","fontSize":23.5,"color":"#1F7F4F","align":"left","baseline":"alphabetic"},
"encoding":{"x":{"field":"x","type":"quantitative","title":null},"y":{"field":"y","type":"quantitative","title":null},"text":{"field":"s"}}},
{"data":{"name":"texts"},"transform":[{"filter":"datum.g==='region'"}],"mark":{"type":"text","font":"Liberation Serif","fontSize":23.5,"color":"#000000","align":"center","baseline":"middle"},
"encoding":{"x":{"field":"x","type":"quantitative","title":null},"y":{"field":"y","type":"quantitative","title":null},"text":{"field":"s"}}},
{"data":{"name":"texts"},"transform":[{"filter":"datum.g==='box'"}],"mark":{"type":"text","font":"Liberation Serif","fontSize":23.5,"color":"#3A6666","align":"center","baseline":"middle"},
"encoding":{"x":{"field":"x","type":"quantitative","title":null},"y":{"field":"y","type":"quantitative","title":null},"text":{"field":"s"}}},
{"data":{"name":"texts"},"transform":[{"filter":"datum.g==='legD'"}],"mark":{"type":"text","font":"Liberation Serif","fontSize":23.5,"color":"#FF0000","align":"right","baseline":"middle"},
"encoding":{"x":{"field":"x","type":"quantitative","title":null},"y":{"field":"y","type":"quantitative","title":null},"text":{"field":"s"}}},
{"data":{"name":"texts"},"transform":[{"filter":"datum.g==='legJ'"}],"mark":{"type":"text","font":"Liberation Serif","fontSize":23.5,"color":"#137313","align":"left","baseline":"middle"},
"encoding":{"x":{"field":"x","type":"quantitative","title":null},"y":{"field":"y","type":"quantitative","title":null},"text":{"field":"s"}}},
{"data":{"name":"texts"},"transform":[{"filter":"datum.g==='code'"}],"mark":{"type":"text","font":"Liberation Sans","fontSize":14,"color":"#000000","align":"right","baseline":"middle"},
"encoding":{"x":{"field":"x","type":"quantitative","title":null},"y":{"field":"y","type":"quantitative","title":null},"text":{"field":"s"}}},
{"data":{"name":"segs"},"transform":[{"filter":"datum.k==='red'"}],"mark":{"type":"rule","color":"#FF0000","strokeWidth":1},
"encoding":{"x":{"field":"x1","type":"quantitative","title":null},"x2":{"field":"x2"},"y":{"field":"y1","type":"quantitative","title":null},"y2":{"field":"y2"}}},
{"data":{"name":"segs"},"transform":[{"filter":"datum.k==='green'"}],"mark":{"type":"rule","color":"#17784A","strokeWidth":1},
"encoding":{"x":{"field":"x1","type":"quantitative","title":null},"x2":{"field":"x2"},"y":{"field":"y1","type":"quantitative","title":null},"y2":{"field":"y2"}}},
{"data":{"name":"segs"},"transform":[{"filter":"datum.k==='teal'"}],"mark":{"type":"rule","color":"#0F6B6B","strokeWidth":2.5},
"encoding":{"x":{"field":"x1","type":"quantitative","title":null},"x2":{"field":"x2"},"y":{"field":"y1","type":"quantitative","title":null},"y2":{"field":"y2"}}},
{"data":{"name":"segs"},"transform":[{"filter":"datum.k==='teal2'"}],"mark":{"type":"rule","color":"#1F6B6B","strokeWidth":2},
"encoding":{"x":{"field":"x1","type":"quantitative","title":null},"x2":{"field":"x2"},"y":{"field":"y1","type":"quantitative","title":null},"y2":{"field":"y2"}}},
{"data":{"name":"heads"},"transform":[{"filter":"datum.k==='T'"}],"mark":{"type":"point","shape":"M0,-1L0.65,0.6L-0.65,0.6Z","size":225,"angle":0,"filled":true,"fill":"#0F6B6B","strokeWidth":0,"opacity":1},
"encoding":{"x":{"field":"x","type":"quantitative","title":null},"y":{"field":"y","type":"quantitative","title":null}}},
{"data":{"name":"heads"},"transform":[{"filter":"datum.k==='F'"}],"mark":{"type":"point","shape":"M0,-1L0.65,0.6L-0.65,0.6Z","size":225,"angle":90,"filled":true,"fill":"#0F6B6B","strokeWidth":0,"opacity":1},
"encoding":{"x":{"field":"x","type":"quantitative","title":null},"y":{"field":"y","type":"quantitative","title":null}}},
{"data":{"name":"heads"},"transform":[{"filter":"datum.k==='R'"}],"mark":{"type":"point","shape":"M0,-1L0.65,0.6L-0.65,0.6Z","size":225,"angle":231,"filled":true,"fill":"#FF0000","strokeWidth":0,"opacity":1},
"encoding":{"x":{"field":"x","type":"quantitative","title":null},"y":{"field":"y","type":"quantitative","title":null}}},
{"data":{"name":"heads"},"transform":[{"filter":"datum.k==='G'"}],"mark":{"type":"point","shape":"M0,-1L0.65,0.6L-0.65,0.6Z","size":225,"angle":161,"filled":true,"fill":"#17784A","strokeWidth":0,"opacity":1},
"encoding":{"x":{"field":"x","type":"quantitative","title":null},"y":{"field":"y","type":"quantitative","title":null}}},
{"data":{"name":"heads"},"transform":[{"filter":"datum.k==='B1'"}],"mark":{"type":"point","shape":"M0,-1L0.65,0.6L-0.65,0.6Z","size":225,"angle":39.4,"filled":true,"fill":"#1F6B6B","strokeWidth":0,"opacity":1},
"encoding":{"x":{"field":"x","type":"quantitative","title":null},"y":{"field":"y","type":"quantitative","title":null}}},
{"data":{"name":"heads"},"transform":[{"filter":"datum.k==='B2'"}],"mark":{"type":"point","shape":"M0,-1L0.65,0.6L-0.65,0.6Z","size":225,"angle":319.4,"filled":true,"fill":"#1F6B6B","strokeWidth":0,"opacity":1},
"encoding":{"x":{"field":"x","type":"quantitative","title":null},"y":{"field":"y","type":"quantitative","title":null}}},
{"data":{"name":"legarr"},"transform":[{"filter":"datum.k==='D'"}],"mark":{"type":"point","shape":"M-5.4,0L-2.4,-1.6L-2.4,-1.1L4,-1.1L4,1.1L-2.4,1.1L-2.4,1.6Z M4.2,-1.1L4.8,-1.1L4.8,1.1L4.2,1.1Z M5.1,-1.1L5.5,-1.1L5.5,1.1L5.1,1.1Z","size":400,"filled":true,"fill":"#FFCCFF","stroke":"#FF2222","strokeWidth":1.5,"opacity":1},
"encoding":{"x":{"field":"x","type":"quantitative","title":null},"y":{"field":"y","type":"quantitative","title":null}}},
{"data":{"name":"legarr"},"transform":[{"filter":"datum.k==='D'"}],"mark":{"type":"point","shape":"M-2.2,1.1L0,-1.1M-0.8,1.1L1.4,-1.1M0.6,1.1L2.8,-1.1M2,1.1L4,-0.9M4.2,0.6L4.8,0","size":400,"filled":false,"stroke":"#FF6666","strokeWidth":1,"opacity":1},
"encoding":{"x":{"field":"x","type":"quantitative","title":null},"y":{"field":"y","type":"quantitative","title":null}}},
{"data":{"name":"legarr"},"transform":[{"filter":"datum.k==='J'"}],"mark":{"type":"point","shape":"M5.1,0L2.7,-1.6L2.7,-1.1L-3.4,-1.1L-3.4,1.1L2.7,1.1L2.7,1.6Z M-5.1,-1.1L-4.7,-1.1L-4.7,1.1L-5.1,1.1Z M-4.4,-1.1L-3.7,-1.1L-3.7,1.1L-4.4,1.1Z","size":400,"filled":true,"fill":"#99FFCC","stroke":"#2A9A9A","strokeWidth":1.5,"opacity":1},
"encoding":{"x":{"field":"x","type":"quantitative","title":null},"y":{"field":"y","type":"quantitative","title":null}}},
{"data":{"name":"legarr"},"transform":[{"filter":"datum.k==='J'"}],"mark":{"type":"point","shape":"M-3.4,-1.1L-1.2,1.1M-2,-1.1L0.2,1.1M-0.6,-1.1L1.6,1.1M0.8,-1.1L3,1.1M-4.3,-0.6L-3.8,0","size":400,"filled":false,"stroke":"#2F7F5F","strokeWidth":1,"opacity":1},
"encoding":{"x":{"field":"x","type":"quantitative","title":null},"y":{"field":"y","type":"quantitative","title":null}}}
]
}
